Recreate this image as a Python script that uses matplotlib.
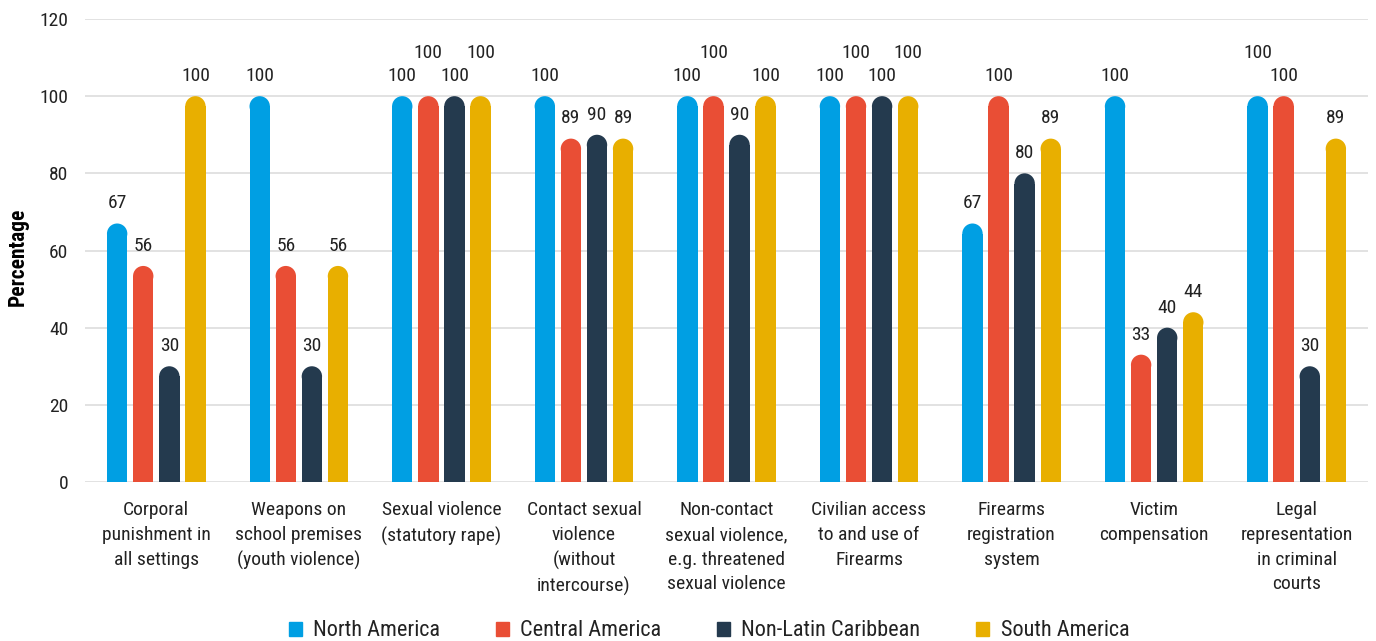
import matplotlib
matplotlib.use('Agg')
import matplotlib.pyplot as plt
from matplotlib import font_manager
from matplotlib.patches import Ellipse, Patch

# pick a narrow sans face if one is around
installed = {f.name for f in font_manager.fontManager.ttflist}
font = 'DejaVu Sans'
for fam in ['Roboto Condensed', 'Liberation Sans Narrow', 'Roboto']:
    if fam in installed:
        font = fam
        break
plt.rcParams['font.family'] = [font, 'DejaVu Sans']

categories = [
    'Corporal\npunishment in\nall settings',
    'Weapons on\nschool premises\n(youth violence)',
    'Sexual violence\n(statutory rape)',
    'Contact sexual\nviolence\n(without\nintercourse)',
    'Non-contact\nsexual violence,\ne.g. threatened\nsexual violence',
    'Civilian access\nto and use of\nFirearms',
    'Firearms\nregistration\nsystem',
    'Victim\ncompensation',
    'Legal\nrepresentation\nin criminal\ncourts',
]
regions = ['North America', 'Central America', 'Non-Latin Caribbean', 'South America']
north_america = [67, 100, 100, 100, 100, 100, 67, 100, 100]
central_america = [56, 56, 100, 89, 100, 100, 100, 33, 100]
non_latin_caribbean = [30, 30, 100, 90, 90, 100, 80, 40, 30]
south_america = [100, 56, 100, 89, 100, 100, 89, 44, 89]
series = [north_america, central_america, non_latin_caribbean, south_america]
colors = ['#009fe3', '#e94e35', '#243a4e', '#e8af00']

# value labels that sit one row higher so neighbouring "100"s don't collide
lifted = {(2, 1), (2, 3), (4, 1), (5, 1), (5, 3), (8, 0)}

text_color = '#222222'
fig = plt.figure(figsize=(13.76, 6.41), dpi=100)
ax = fig.add_axes([85 / 1376, 159 / 641, 1283 / 1376, 463 / 641])
ax.set_xlim(-0.5, len(categories) - 0.5)
ax.set_ylim(0, 120)

step = 0.183
bar_w = 0.143
# rounded caps: radius of half the bar width, converted to y units
p0 = ax.transData.transform((0, 0))
p1 = ax.transData.transform((1, 1))
px_x, px_y = p1[0] - p0[0], p1[1] - p0[1]
cap = bar_w * px_x / 2 / px_y

for j, (vals, col) in enumerate(zip(series, colors)):
    off = (j - 1.5) * step
    for i, v in enumerate(vals):
        x = i + off
        ax.bar(x, v - cap, width=bar_w, color=col, zorder=3, linewidth=0)
        ax.add_patch(Ellipse((x, v - cap), bar_w, 2 * cap, color=col, zorder=3, linewidth=0))
        dy = 31 if (i, j) in lifted else 14.5
        ax.annotate(str(v), (x, v), xytext=(0, dy), textcoords='offset points',
                    ha='center', va='center', fontsize=14, color=text_color)

ax.set_yticks(range(0, 121, 20))
ax.set_xticks(range(len(categories)))
ax.set_xticklabels(categories, fontsize=14, color=text_color, linespacing=1.47, va='top')
ax.tick_params(axis='both', length=0)
ax.tick_params(axis='y', pad=12, labelsize=14, labelcolor=text_color)
ax.tick_params(axis='x', pad=14)
ax.yaxis.grid(True, color='#dddddd', linewidth=1.2, zorder=0)
ax.set_axisbelow(True)
for s in ax.spines.values():
    s.set_visible(False)

fig.text(18 / 1376, 1 - 257 / 641, 'Percentage', rotation=90, ha='center', va='center',
         fontsize=15.5, fontweight='bold', color='black')

handles = [Patch(color=c, label=r) for c, r in zip(colors, regions)]
fig.legend(handles=handles, loc='center', bbox_to_anchor=(709 / 1376, 1 - 631 / 641),
           ncol=4, frameon=False, fontsize=16, handlelength=0.6, handleheight=0.6,
           handletextpad=0.5, columnspacing=2.5, labelcolor=text_color)

fig.savefig('out.png', dpi=100)
